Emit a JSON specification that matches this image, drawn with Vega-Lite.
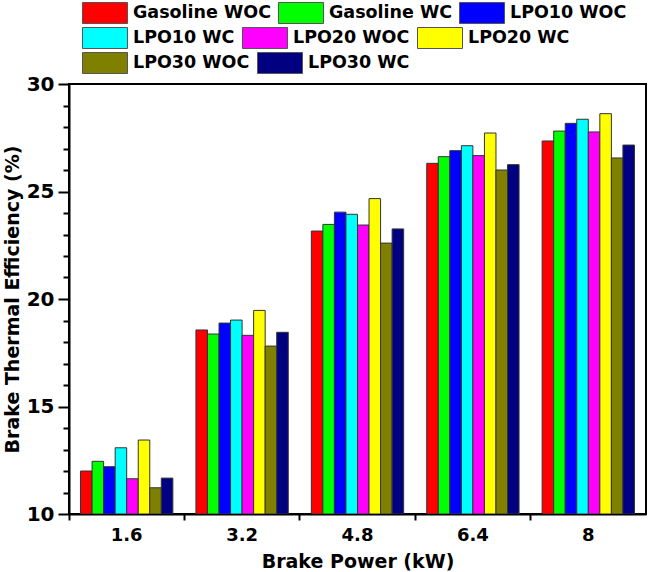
{
  "$schema": "https://vega.github.io/schema/vega-lite/v6.json",
  "width": 577,
  "height": 430,
  "autosize": {"type": "none"},
  "padding": {"left": 69, "top": 84, "right": 6, "bottom": 58},
  "background": "white",
  "config": {
    "view": {"stroke": "black", "strokeWidth": 2},
    "font": "DejaVu Sans",
    "legend": {
      "orient": "none", "direction": "horizontal", "title": null,
      "symbolType": "M-1,-1H3.286V1H-1Z", "symbolSize": 441,
      "symbolStrokeColor": "#555555", "symbolStrokeWidth": 1, "symbolOpacity": 1,
      "labelFontSize": 17.5, "labelFontWeight": "bold", "labelColor": "black",
      "labelOffset": 29, "labelLimit": 300
    }
  },
  "data": {"values": [
    {"power": "1.6", "fuel": "Gasoline WOC", "bte": 12.00},
    {"power": "1.6", "fuel": "Gasoline WC", "bte": 12.45},
    {"power": "1.6", "fuel": "LPO10 WOC", "bte": 12.20},
    {"power": "1.6", "fuel": "LPO10 WC", "bte": 13.08},
    {"power": "1.6", "fuel": "LPO20 WOC", "bte": 11.64},
    {"power": "1.6", "fuel": "LPO20 WC", "bte": 13.44},
    {"power": "1.6", "fuel": "LPO30 WOC", "bte": 11.22},
    {"power": "1.6", "fuel": "LPO30 WC", "bte": 11.67},
    {"power": "3.2", "fuel": "Gasoline WOC", "bte": 18.56},
    {"power": "3.2", "fuel": "Gasoline WC", "bte": 18.37},
    {"power": "3.2", "fuel": "LPO10 WOC", "bte": 18.88},
    {"power": "3.2", "fuel": "LPO10 WC", "bte": 19.02},
    {"power": "3.2", "fuel": "LPO20 WOC", "bte": 18.31},
    {"power": "3.2", "fuel": "LPO20 WC", "bte": 19.47},
    {"power": "3.2", "fuel": "LPO30 WOC", "bte": 17.81},
    {"power": "3.2", "fuel": "LPO30 WC", "bte": 18.45},
    {"power": "4.8", "fuel": "Gasoline WOC", "bte": 23.16},
    {"power": "4.8", "fuel": "Gasoline WC", "bte": 23.47},
    {"power": "4.8", "fuel": "LPO10 WOC", "bte": 24.04},
    {"power": "4.8", "fuel": "LPO10 WC", "bte": 23.94},
    {"power": "4.8", "fuel": "LPO20 WOC", "bte": 23.44},
    {"power": "4.8", "fuel": "LPO20 WC", "bte": 24.67},
    {"power": "4.8", "fuel": "LPO30 WOC", "bte": 22.60},
    {"power": "4.8", "fuel": "LPO30 WC", "bte": 23.26},
    {"power": "6.4", "fuel": "Gasoline WOC", "bte": 26.31},
    {"power": "6.4", "fuel": "Gasoline WC", "bte": 26.62},
    {"power": "6.4", "fuel": "LPO10 WOC", "bte": 26.90},
    {"power": "6.4", "fuel": "LPO10 WC", "bte": 27.13},
    {"power": "6.4", "fuel": "LPO20 WOC", "bte": 26.67},
    {"power": "6.4", "fuel": "LPO20 WC", "bte": 27.72},
    {"power": "6.4", "fuel": "LPO30 WOC", "bte": 26.00},
    {"power": "6.4", "fuel": "LPO30 WC", "bte": 26.25},
    {"power": "8", "fuel": "Gasoline WOC", "bte": 27.35},
    {"power": "8", "fuel": "Gasoline WC", "bte": 27.81},
    {"power": "8", "fuel": "LPO10 WOC", "bte": 28.17},
    {"power": "8", "fuel": "LPO10 WC", "bte": 28.36},
    {"power": "8", "fuel": "LPO20 WOC", "bte": 27.77},
    {"power": "8", "fuel": "LPO20 WC", "bte": 28.62},
    {"power": "8", "fuel": "LPO30 WOC", "bte": 26.56},
    {"power": "8", "fuel": "LPO30 WC", "bte": 27.16}
  ]},
  "layer": [
    {
      "mark": {"type": "bar", "stroke": "#333333", "strokeWidth": 1, "clip": true},
      "encoding": {
        "x": {
          "field": "power", "type": "nominal",
          "sort": ["1.6", "3.2", "4.8", "6.4", "8"],
          "scale": {"paddingInner": 0, "paddingOuter": 0},
          "axis": {
            "orient": "bottom",
            "title": "Brake Power (kW)",
            "ticks": false,
            "domain": true, "domainWidth": 2, "domainColor": "black",
            "labelAngle": 0, "labelFontSize": 18, "labelFontWeight": "bold", "labelColor": "black",
            "labelPadding": 12,
            "titleFontSize": 19, "titleFontWeight": "bold", "titleColor": "black", "titlePadding": 8
          }
        },
        "xOffset": {
          "field": "fuel", "type": "nominal",
          "sort": ["Gasoline WOC", "Gasoline WC", "LPO10 WOC", "LPO10 WC", "LPO20 WOC", "LPO20 WC", "LPO30 WOC", "LPO30 WC"],
          "scale": {"paddingInner": 0, "paddingOuter": 1.0}
        },
        "y": {
          "field": "bte", "type": "quantitative",
          "scale": {"domain": [10, 30], "zero": false, "nice": false},
          "axis": {
            "orient": "left",
            "values": [10, 15, 20, 25, 30],
            "title": "Brake Thermal Efficiency (%)",
            "grid": false,
            "tickSize": 11, "tickWidth": 2, "tickColor": "black",
            "domain": true, "domainWidth": 2, "domainColor": "black",
            "labelFontSize": 20, "labelFontWeight": "bold", "labelColor": "black", "labelPadding": 4,
            "titleFontSize": 19, "titleFontWeight": "bold", "titleColor": "black", "titlePadding": 4
          }
        },
        "y2": {"datum": 10},
        "color": {
          "field": "fuel", "type": "nominal",
          "scale": {
            "domain": ["Gasoline WOC", "Gasoline WC", "LPO10 WOC", "LPO10 WC", "LPO20 WOC", "LPO20 WC", "LPO30 WOC", "LPO30 WC"],
            "range": ["#ff0000", "#00ff00", "#0000ff", "#00ffff", "#ff00ff", "#ffff00", "#808000", "#000080"]
          },
          "legend": null
        }
      }
    },
    {
      "mark": {"type": "bar", "opacity": 0, "clip": true},
      "encoding": {
        "x": {
          "field": "power", "type": "nominal",
          "sort": ["1.6", "3.2", "4.8", "6.4", "8"],
          "scale": {"paddingInner": 0, "paddingOuter": 0},
          "axis": {
            "orient": "bottom", "title": null, "labels": false, "domain": false,
            "ticks": true, "tickSize": 6, "tickWidth": 2, "tickColor": "black", "bandPosition": 0
          }
        },
        "y": {
          "field": "bte", "type": "quantitative",
          "scale": {"domain": [10, 30], "zero": false, "nice": false},
          "axis": {
            "orient": "left", "title": null, "labels": false, "domain": false, "grid": false,
            "values": [11, 12, 13, 14, 16, 17, 18, 19, 21, 22, 23, 24, 26, 27, 28, 29],
            "tickSize": 6, "tickWidth": 2, "tickColor": "black"
          }
        }
      }
    },
    {
      "transform": [{"filter": {"field": "fuel", "equal": "Gasoline WOC"}}],
      "mark": {"type": "bar", "opacity": 0},
      "encoding": {
        "x": {"field": "power", "type": "nominal", "sort": ["1.6", "3.2", "4.8", "6.4", "8"], "scale": {"paddingInner": 0, "paddingOuter": 0}, "axis": null},
        "color": {"field": "fuel", "type": "nominal", "scale": {"domain": ["Gasoline WOC"], "range": ["#ff0000"]}, "legend": {"legendX": 13, "legendY": -82}}
      }
    },
    {
      "transform": [{"filter": {"field": "fuel", "equal": "Gasoline WC"}}],
      "mark": {"type": "bar", "opacity": 0},
      "encoding": {
        "x": {"field": "power", "type": "nominal", "sort": ["1.6", "3.2", "4.8", "6.4", "8"], "scale": {"paddingInner": 0, "paddingOuter": 0}, "axis": null},
        "color": {"field": "fuel", "type": "nominal", "scale": {"domain": ["Gasoline WC"], "range": ["#00ff00"]}, "legend": {"legendX": 209, "legendY": -82}}
      }
    },
    {
      "transform": [{"filter": {"field": "fuel", "equal": "LPO10 WOC"}}],
      "mark": {"type": "bar", "opacity": 0},
      "encoding": {
        "x": {"field": "power", "type": "nominal", "sort": ["1.6", "3.2", "4.8", "6.4", "8"], "scale": {"paddingInner": 0, "paddingOuter": 0}, "axis": null},
        "color": {"field": "fuel", "type": "nominal", "scale": {"domain": ["LPO10 WOC"], "range": ["#0000ff"]}, "legend": {"legendX": 390, "legendY": -82}}
      }
    },
    {
      "transform": [{"filter": {"field": "fuel", "equal": "LPO10 WC"}}],
      "mark": {"type": "bar", "opacity": 0},
      "encoding": {
        "x": {"field": "power", "type": "nominal", "sort": ["1.6", "3.2", "4.8", "6.4", "8"], "scale": {"paddingInner": 0, "paddingOuter": 0}, "axis": null},
        "color": {"field": "fuel", "type": "nominal", "scale": {"domain": ["LPO10 WC"], "range": ["#00ffff"]}, "legend": {"legendX": 13, "legendY": -57}}
      }
    },
    {
      "transform": [{"filter": {"field": "fuel", "equal": "LPO20 WOC"}}],
      "mark": {"type": "bar", "opacity": 0},
      "encoding": {
        "x": {"field": "power", "type": "nominal", "sort": ["1.6", "3.2", "4.8", "6.4", "8"], "scale": {"paddingInner": 0, "paddingOuter": 0}, "axis": null},
        "color": {"field": "fuel", "type": "nominal", "scale": {"domain": ["LPO20 WOC"], "range": ["#ff00ff"]}, "legend": {"legendX": 173, "legendY": -57}}
      }
    },
    {
      "transform": [{"filter": {"field": "fuel", "equal": "LPO20 WC"}}],
      "mark": {"type": "bar", "opacity": 0},
      "encoding": {
        "x": {"field": "power", "type": "nominal", "sort": ["1.6", "3.2", "4.8", "6.4", "8"], "scale": {"paddingInner": 0, "paddingOuter": 0}, "axis": null},
        "color": {"field": "fuel", "type": "nominal", "scale": {"domain": ["LPO20 WC"], "range": ["#ffff00"]}, "legend": {"legendX": 348, "legendY": -57}}
      }
    },
    {
      "transform": [{"filter": {"field": "fuel", "equal": "LPO30 WOC"}}],
      "mark": {"type": "bar", "opacity": 0},
      "encoding": {
        "x": {"field": "power", "type": "nominal", "sort": ["1.6", "3.2", "4.8", "6.4", "8"], "scale": {"paddingInner": 0, "paddingOuter": 0}, "axis": null},
        "color": {"field": "fuel", "type": "nominal", "scale": {"domain": ["LPO30 WOC"], "range": ["#808000"]}, "legend": {"legendX": 13, "legendY": -32}}
      }
    },
    {
      "transform": [{"filter": {"field": "fuel", "equal": "LPO30 WC"}}],
      "mark": {"type": "bar", "opacity": 0},
      "encoding": {
        "x": {"field": "power", "type": "nominal", "sort": ["1.6", "3.2", "4.8", "6.4", "8"], "scale": {"paddingInner": 0, "paddingOuter": 0}, "axis": null},
        "color": {"field": "fuel", "type": "nominal", "scale": {"domain": ["LPO30 WC"], "range": ["#000080"]}, "legend": {"legendX": 188, "legendY": -32}}
      }
    }
  ],
  "resolve": {
    "axis": {"x": "independent", "y": "independent"},
    "scale": {"color": "independent"},
    "legend": {"color": "independent"}
  }
}
